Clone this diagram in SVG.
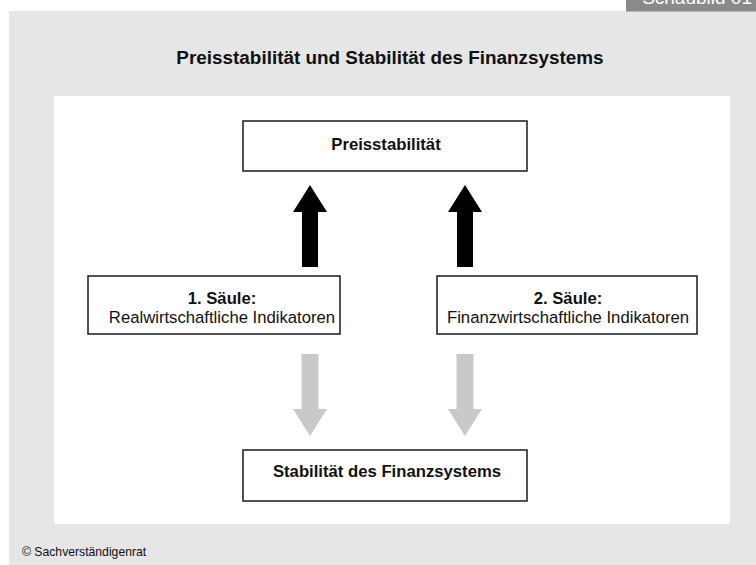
<svg xmlns="http://www.w3.org/2000/svg" width="756" height="565" viewBox="0 0 756 565">
  <defs>
    <style>
      .box { fill: #ffffff; stroke: #1a1a1a; stroke-width: 1.5; }
      .t { font-family: "Liberation Sans", Arial, sans-serif; fill: #111111; text-anchor: middle; font-size: 16.7px; }
      .b { font-weight: bold; }
      .up { fill: #000000; }
      .down { fill: #c9c9c9; }
    </style>
    <!-- arrow shapes centred on x=0 -->
    <polygon id="arrowUp" points="-8,82 -8,27 -17,27 0,0 17,27 8,27 8,82"/>
    <polygon id="arrowDown" points="-8.5,0 8.5,0 8.5,55 17,55 0,82 -17,55 -8.5,55"/>
  </defs>

  <!-- page background -->
  <rect x="0" y="0" width="756" height="565" fill="#ffffff"/>
  <rect x="9" y="11" width="747" height="554" fill="#e6e6e6"/>
  <!-- figure tab -->
  <rect x="626" y="0" width="130" height="11.5" fill="#8a8a8a"/>
  <text x="752" y="4" font-family="Liberation Sans, Arial, sans-serif" font-size="19" fill="#ffffff" text-anchor="end">Schaubild 01</text>

  <!-- title -->
  <text class="t b" x="390" y="64" style="font-size:18.9px">Preisstabilität und Stabilität des Finanzsystems</text>

  <!-- white panel -->
  <rect x="54" y="96" width="676" height="428" fill="#ffffff"/>

  <!-- connectors -->
  <g id="connectors">
    <use href="#arrowUp" class="up" x="310" y="185"/>
    <use href="#arrowUp" class="up" x="465" y="185"/>
    <use href="#arrowDown" class="down" x="310" y="354"/>
    <use href="#arrowDown" class="down" x="465" y="354"/>
  </g>

  <g id="preisstabilitaet">
    <rect class="box" x="243" y="121" width="284" height="50"/>
    <text class="t b" x="386" y="150">Preisstabilität</text>
  </g>

  <g id="saeule1">
    <rect class="box" x="88" y="276" width="252" height="58"/>
    <text class="t b" x="222" y="304">1. Säule:</text>
    <text class="t" x="222" y="323">Realwirtschaftliche Indikatoren</text>
  </g>

  <g id="saeule2">
    <rect class="box" x="437" y="276" width="260" height="58"/>
    <text class="t b" x="568" y="304">2. Säule:</text>
    <text class="t" x="568" y="323">Finanzwirtschaftliche Indikatoren</text>
  </g>

  <g id="finanzsystem">
    <rect class="box" x="243" y="450" width="284" height="51"/>
    <text class="t b" x="387" y="477">Stabilität des Finanzsystems</text>
  </g>

  <!-- source line -->
  <text x="22" y="556" font-family="Liberation Sans, Arial, sans-serif" font-size="12.2" fill="#111111">© Sachverständigenrat</text>
</svg>
